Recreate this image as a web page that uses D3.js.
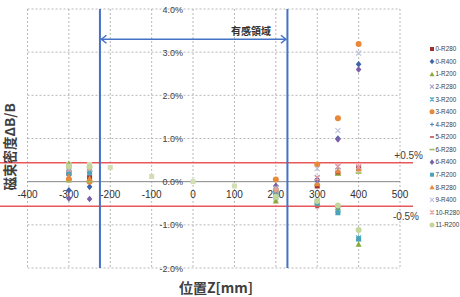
<!DOCTYPE html>
<html>
<head>
<meta charset="utf-8">
<script src="https://cdn.jsdelivr.net/npm/d3@7"></script>
<style>
  body { margin: 0; background: #fff; }
  svg { display: block; font-family: "Liberation Sans", "Noto Sans CJK JP", sans-serif; }
</style>
</head>
<body>
<div id="chart"></div>
<script>
// positions along Z (mm)
const zPos = [-300, -250, -200, -100, 0, 100, 200, 300, 350, 400];

// dB/B in %, null where no measurement
const s0_R280  = [0.20, 0.10, null, null, null, null, -0.20, -0.10, 0.20, 0.30];
const s0_R400  = [-0.20, -0.12, null, null, null, null, -0.10, 0.02, 1.00, 2.72];
const s1_R200  = [0.42, 0.30, null, null, null, null, -0.45, -0.50, -0.60, -1.45];
const s2_R280  = [0.30, 0.25, null, null, null, null, -0.15, 0.10, 0.35, 0.33];
const s3_R200  = [0.25, 0.28, null, null, null, null, -0.30, -0.45, -0.65, -1.30];
const s3_R400  = [0.05, 0.00, null, null, null, null, 0.05, 0.40, 1.47, 3.19];
const s4_R280  = [0.15, 0.15, null, null, null, null, -0.10, 0.00, 0.30, 0.30];
const s5_R200  = [0.10, 0.05, null, null, null, null, -0.30, -0.60, -0.60, -1.35];
const s6_R280  = [0.00, 0.00, null, null, null, null, -0.20, -0.08, 0.15, 0.20];
const s6_R400  = [-0.39, -0.40, null, null, null, null, -0.10, 0.05, 0.98, 2.60];
const s7_R200  = [0.20, 0.22, null, null, null, null, -0.35, -0.50, -0.72, -1.33];
const s8_R280  = [0.12, 0.08, null, null, null, null, -0.15, -0.05, 0.25, 0.30];
const s9_R400  = [0.35, 0.30, null, null, null, null, -0.15, 0.30, 1.18, 2.98];
const s10_R280 = [0.28, 0.30, null, null, null, null, -0.20, 0.08, 0.35, 0.35];
const s11_R200 = [0.35, 0.35, null, null, null, null, -0.35, -0.45, -0.55, -1.12];
const centerRef = [0.40, 0.40, 0.33, 0.12, 0.00, -0.10, -0.42, -0.50, null, null];

const seriesNames = ['0-R280', '0-R400', '1-R200', '2-R280', '3-R200', '3-R400', '4-R280', '5-R200',
                     '6-R280', '6-R400', '7-R200', '8-R280', '9-R400', '10-R280', '11-R200'];
const seriesValues = [s0_R280, s0_R400, s1_R200, s2_R280, s3_R200, s3_R400, s4_R280, s5_R200,
                      s6_R280, s6_R400, s7_R200, s8_R280, s9_R400, s10_R280, s11_R200];

const xTicks = [-400, -300, -200, -100, 0, 100, 200, 300, 400, 500];
const yTicks = [-2, -1, 0, 1, 2, 3, 4];
const sensitiveZone = [-225, 228];   // 有感領域 boundaries
const limitLines = [0.44, -0.57];    // red lines (drawn by hand in the original)
const limitLabels = ['+0.5%', '-0.5%'];

// styles
const seriesColors = ['#a0302e', '#3c64aa', '#8aaa3c', '#a899c8', '#4bacc6', '#e8883a', '#4f81bd', '#c0504d',
                      '#9bbb59', '#7a5fa8', '#4ba3b8', '#e8883a', '#b8c0dc', '#e6a0a0', '#c4d79b'];
const seriesMarkers = ['square', 'diamond', 'triangle', 'x', 'star', 'circle', 'plus', 'dash',
                       'longdash', 'diamond', 'square', 'triangle', 'x', 'star', 'circle'];

const width = 460, height = 297;
const svg = d3.select('#chart').append('svg').attr('width', width).attr('height', height);

const x = d3.scaleLinear().domain([-400, 500]).range([27.5, 400]);
const y = d3.scaleLinear().domain([-2, 4]).range([268, 9]);

const grid = '#a6a6a6';
// vertical grid
svg.append('g').selectAll('line').data(xTicks).enter().append('line')
    .attr('x1', d => x(d)).attr('x2', d => x(d))
    .attr('y1', y(4)).attr('y2', y(-2))
    .attr('stroke', grid).attr('stroke-width', 0.8).attr('stroke-dasharray', '2,2');
// horizontal grid
svg.append('g').selectAll('line').data(yTicks.filter(d => d !== 0)).enter().append('line')
    .attr('x1', x(-400)).attr('x2', x(500))
    .attr('y1', d => y(d)).attr('y2', d => y(d))
    .attr('stroke', grid).attr('stroke-width', 0.8).attr('stroke-dasharray', '2,2');
// zero line
svg.append('line')
    .attr('x1', x(-400)).attr('x2', x(500)).attr('y1', y(0)).attr('y2', y(0))
    .attr('stroke', '#868686').attr('stroke-width', 1);

// y tick labels left of z=0
svg.append('g').selectAll('text').data(yTicks).enter().append('text')
    .attr('x', x(0) - 10).attr('y', d => y(d) + 3.5)
    .attr('text-anchor', 'end').attr('font-size', 9).attr('fill', '#404040')
    .text(d => d.toFixed(1) + '%');
// x tick labels under zero line
svg.append('g').selectAll('text').data(xTicks).enter().append('text')
    .attr('x', d => x(d)).attr('y', y(0) + 16)
    .attr('text-anchor', 'middle').attr('font-size', 10).attr('fill', '#303030')
    .text(d => d);

// red limit lines
svg.append('g').selectAll('line').data(limitLines).enter().append('line')
    .attr('x1', 0).attr('x2', 413)
    .attr('y1', d => y(d)).attr('y2', d => y(d))
    .attr('stroke', '#e8575a').attr('stroke-width', 1.5);
svg.append('g').selectAll('text').data(limitLabels).enter().append('text')
    .attr('x', (d, i) => i === 0 ? 423 : 419)
    .attr('y', (d, i) => i === 0 ? y(limitLines[0]) - 4 : y(limitLines[1]) + 14)
    .attr('text-anchor', 'end').attr('font-size', 10).attr('fill', '#404040')
    .text(d => d);

// markers
function marker(g, type, color, cx, cy, s) {
  const h = s / 2;
  if (type === 'square') {
    g.append('rect').attr('x', cx - h).attr('y', cy - h).attr('width', s).attr('height', s).attr('fill', color);
  } else if (type === 'diamond') {
    g.append('path').attr('d', `M${cx},${cy - h - 0.8}L${cx + h + 0.3},${cy}L${cx},${cy + h + 0.8}L${cx - h - 0.3},${cy}Z`).attr('fill', color);
  } else if (type === 'triangle') {
    g.append('path').attr('d', `M${cx},${cy - h - 0.5}L${cx + h + 0.5},${cy + h}L${cx - h - 0.5},${cy + h}Z`).attr('fill', color);
  } else if (type === 'circle') {
    g.append('circle').attr('cx', cx).attr('cy', cy).attr('r', h + 0.5).attr('fill', color);
  } else if (type === 'x') {
    g.append('path').attr('d', `M${cx - h},${cy - h}L${cx + h},${cy + h}M${cx - h},${cy + h}L${cx + h},${cy - h}`)
      .attr('stroke', color).attr('stroke-width', 1.1).attr('fill', 'none');
  } else if (type === 'star') {
    g.append('path').attr('d', `M${cx - h},${cy - h}L${cx + h},${cy + h}M${cx - h},${cy + h}L${cx + h},${cy - h}M${cx},${cy - h}L${cx},${cy + h}`)
      .attr('stroke', color).attr('stroke-width', 1.1).attr('fill', 'none');
  } else if (type === 'plus') {
    g.append('path').attr('d', `M${cx - h},${cy}L${cx + h},${cy}M${cx},${cy - h}L${cx},${cy + h}`)
      .attr('stroke', color).attr('stroke-width', 1).attr('fill', 'none');
  } else if (type === 'dash') {
    g.append('rect').attr('x', cx - 2).attr('y', cy - 0.8).attr('width', 4).attr('height', 1.6).attr('fill', color);
  } else if (type === 'longdash') {
    g.append('rect').attr('x', cx - h - 0.5).attr('y', cy - 0.8).attr('width', s + 1).attr('height', 1.6).attr('fill', color);
  }
}

const pts = svg.append('g');
// reference points along the axis
centerRef.forEach((v, i) => {
  if (v !== null) marker(pts, 'square', '#d2deb4', x(zPos[i]), y(v), 5);
});
seriesValues.forEach((vals, k) => {
  vals.forEach((v, i) => {
    if (v !== null) marker(pts, seriesMarkers[k], seriesColors[k], x(zPos[i]), y(v), 5);
  });
});

// sensitive zone lines and arrow
const blue = '#4472c4';
svg.append('g').selectAll('line').data(sensitiveZone).enter().append('line')
    .attr('x1', d => x(d)).attr('x2', d => x(d))
    .attr('y1', y(4)).attr('y2', y(-2))
    .attr('stroke', blue).attr('stroke-width', 2);
const arrowY = y(3.3);
const ax1 = x(sensitiveZone[0]) + 1.5, ax2 = x(sensitiveZone[1]) - 1.5;
svg.append('line').attr('x1', ax1).attr('x2', ax2).attr('y1', arrowY).attr('y2', arrowY)
    .attr('stroke', blue).attr('stroke-width', 1.5);
svg.append('path')
    .attr('d', `M${ax1 + 5},${arrowY - 4}L${ax1},${arrowY}L${ax1 + 5},${arrowY + 4}M${ax2 - 5},${arrowY - 4}L${ax2},${arrowY}L${ax2 - 5},${arrowY + 4}`)
    .attr('stroke', blue).attr('stroke-width', 1.5).attr('fill', 'none');
svg.append('text')
    .attr('x', 251).attr('y', 35).attr('text-anchor', 'middle')
    .attr('font-family', '"Noto Sans CJK JP", sans-serif')
    .attr('font-size', 10).attr('font-weight', 'bold').attr('fill', '#333')
    .text('有感領域');

// legend
const legend = svg.append('g');
seriesNames.forEach((name, k) => {
  const ly = 49 + k * 12.57;
  marker(legend, seriesMarkers[k], seriesColors[k], 432, ly, 4);
  legend.append('text').attr('x', 435.5).attr('y', ly + 2.3)
    .attr('font-size', 6.3).attr('fill', '#404040').text(name);
});

// axis titles
svg.append('text')
    .attr('transform', 'translate(15,147) rotate(-90)')
    .attr('text-anchor', 'middle')
    .attr('font-family', '"Noto Sans CJK JP", sans-serif')
    .attr('font-size', 13.5).attr('font-weight', 'bold').attr('fill', '#404040')
    .text('磁束密度ΔB/B');
svg.append('text')
    .attr('x', 216).attr('y', 293).attr('text-anchor', 'middle')
    .attr('font-family', '"Noto Sans CJK JP", sans-serif')
    .attr('font-size', 14).attr('font-weight', 'bold').attr('fill', '#404040')
    .text('位置Z[mm]');
</script>
</body>
</html>
